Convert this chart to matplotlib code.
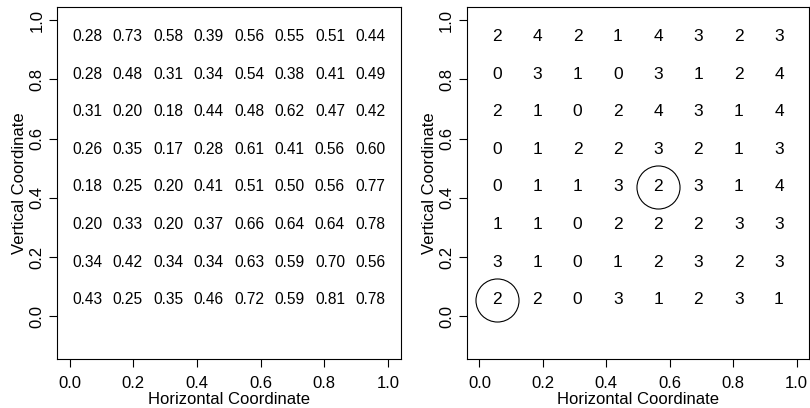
import matplotlib
matplotlib.use("Agg")
import matplotlib.pyplot as plt
import numpy as np

plt.rcParams['font.family'] = ['Liberation Sans', 'DejaVu Sans']

# Left panel values, rows listed top to bottom
left_values = [
    [0.28, 0.73, 0.58, 0.39, 0.56, 0.55, 0.51, 0.44],
    [0.28, 0.48, 0.31, 0.34, 0.54, 0.38, 0.41, 0.49],
    [0.31, 0.20, 0.18, 0.44, 0.48, 0.62, 0.47, 0.42],
    [0.26, 0.35, 0.17, 0.28, 0.61, 0.41, 0.56, 0.60],
    [0.18, 0.25, 0.20, 0.41, 0.51, 0.50, 0.56, 0.77],
    [0.20, 0.33, 0.20, 0.37, 0.66, 0.64, 0.64, 0.78],
    [0.34, 0.42, 0.34, 0.34, 0.63, 0.59, 0.70, 0.56],
    [0.43, 0.25, 0.35, 0.46, 0.72, 0.59, 0.81, 0.78],
]

# Right panel counts, rows listed top to bottom
right_counts = [
    [2, 4, 2, 1, 4, 3, 2, 3],
    [0, 3, 1, 0, 3, 1, 2, 4],
    [2, 1, 0, 2, 4, 3, 1, 4],
    [0, 1, 2, 2, 3, 2, 1, 3],
    [0, 1, 1, 3, 2, 3, 1, 4],
    [1, 1, 0, 2, 2, 2, 3, 3],
    [3, 1, 0, 1, 2, 3, 2, 3],
    [2, 2, 0, 3, 1, 2, 3, 1],
]

# Circled cells: (column index, row index from top)
circled_cells = [(0, 7), (4, 4)]

x_centers = np.linspace(1 / 18, 17 / 18, 8)
y_centers_top_down = np.linspace(17 / 18, 1 / 18, 8)

tick_vals = [0.0, 0.2, 0.4, 0.6, 0.8, 1.0]
tick_labels = ["0.0", "0.2", "0.4", "0.6", "0.8", "1.0"]
xlabel = "Horizontal Coordinate"
ylabel = "Vertical Coordinate"

fig = plt.figure(figsize=(8.1, 4.08), dpi=100)
bottom = 49 / 408
height = 352 / 408
ax1 = fig.add_axes([57 / 810, bottom, 343.7 / 810, height])
ax2 = fig.add_axes([466.7 / 810, bottom, 342.6 / 810, height])


def style(ax):
    ax.set_xlim(-0.04, 1.04)
    ax.set_ylim(-0.144, 1.044)
    ax.set_xticks(tick_vals)
    ax.set_xticklabels(tick_labels)
    ax.set_yticks(tick_vals)
    ax.set_yticklabels(tick_labels)
    for s in ax.spines.values():
        s.set_linewidth(0.8)
        s.set_color('black')
    ax.tick_params(axis='both', direction='out', length=6, width=0.8,
                   labelsize=12, colors='black')
    ax.tick_params(axis='x', pad=6.5)
    ax.tick_params(axis='y', pad=3, labelrotation=90)
    for lbl in ax.get_yticklabels():
        lbl.set_va('center')
    ax.set_xlabel(xlabel, fontsize=12)
    ax.set_ylabel(ylabel, fontsize=12)
    ax.xaxis.set_label_coords(0.5, -0.095)
    ax.yaxis.set_label_coords(-0.087, 0.5)


style(ax1)
style(ax2)

for r, row in enumerate(left_values):
    for c, v in enumerate(row):
        ax1.text(x_centers[c], y_centers_top_down[r], f"{v:.2f}",
                 ha='center', va='center', fontsize=11.2)

for r, row in enumerate(right_counts):
    for c, v in enumerate(row):
        ax2.text(x_centers[c], y_centers_top_down[r], str(v),
                 ha='center', va='center', fontsize=12.5)

for c, r in circled_cells:
    ax2.plot(x_centers[c], y_centers_top_down[r], marker='o', markersize=31,
             markerfacecolor='none', markeredgecolor='black',
             markeredgewidth=0.8, linestyle='none')

fig.savefig("out.png", dpi=100)
